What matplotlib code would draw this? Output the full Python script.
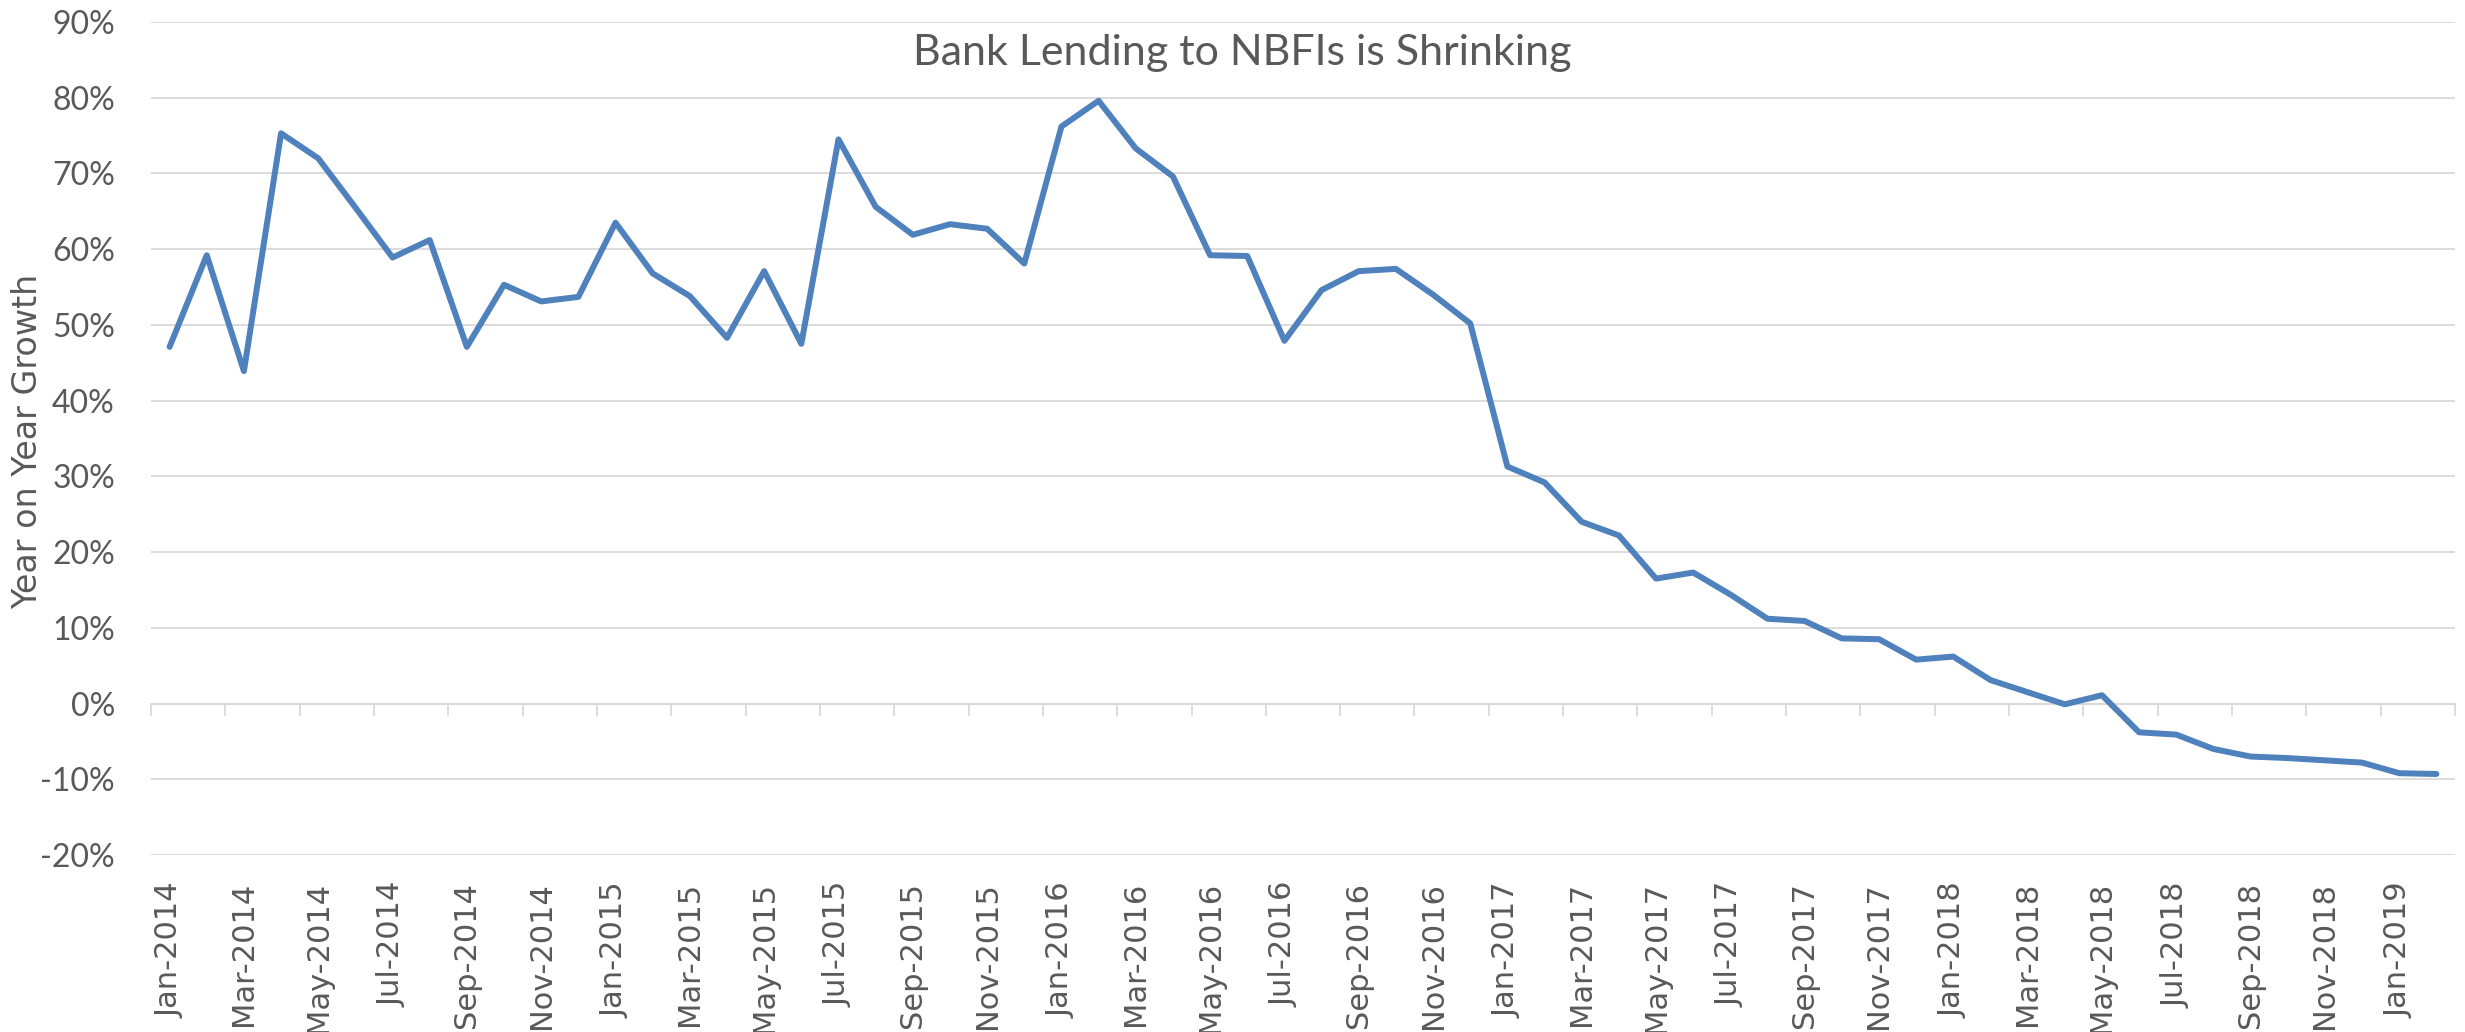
import numpy as np
import matplotlib
matplotlib.use("Agg")
import matplotlib.pyplot as plt
import matplotlib.transforms as mtransforms
from matplotlib.ticker import FuncFormatter

# ---- data (year-on-year growth, %) Jan-2014 .. Feb-2019 ----
growth = [47.1, 59.2, 43.9, 75.3, 72.0, 65.5, 58.9, 61.2, 47.1, 55.3, 53.1, 53.7,
          63.5, 56.8, 53.8, 48.3, 57.1, 47.5, 74.5, 65.6, 61.9, 63.3, 62.7, 58.1,
          76.2, 79.6, 73.3, 69.6, 59.2, 59.1, 47.9, 54.6, 57.1, 57.4, 54.0, 50.2,
          31.3, 29.2, 24.0, 22.2, 16.5, 17.3, 14.4, 11.2, 10.9, 8.6, 8.5, 5.8,
          6.2, 3.1, 1.5, -0.1, 1.1, -3.8, -4.1, -6.0, -7.0, -7.2, -7.5, -7.8,
          -9.2, -9.3]

tick_labels = ["Jan-2014", "Mar-2014", "May-2014", "Jul-2014", "Sep-2014", "Nov-2014",
               "Jan-2015", "Mar-2015", "May-2015", "Jul-2015", "Sep-2015", "Nov-2015",
               "Jan-2016", "Mar-2016", "May-2016", "Jul-2016", "Sep-2016", "Nov-2016",
               "Jan-2017", "Mar-2017", "May-2017", "Jul-2017", "Sep-2017", "Nov-2017",
               "Jan-2018", "Mar-2018", "May-2018", "Jul-2018", "Sep-2018", "Nov-2018",
               "Jan-2019"]

y_ticks = [-20, -10, 0, 10, 20, 30, 40, 50, 60, 70, 80, 90]

title = "Bank Lending to NBFIs is Shrinking"
ylabel = "Year on Year Growth"

# ---- style ----
W, H = 2465, 1032
TXT = "#595959"
GRID = "#D9D9D9"
LINE = "#4F81BD"

fig = plt.figure(figsize=(W / 100, H / 100), dpi=100)
fig.patch.set_facecolor("white")
ax = fig.add_axes([151 / W, 1 - 855 / H, (2455 - 151) / W, (855 - 22) / H])

x = np.arange(len(growth))
ax.plot(x, growth, color=LINE, lw=4.3, solid_joinstyle="round",
        solid_capstyle="round", zorder=3)

ax.set_xlim(-0.5, len(growth) - 0.5)
ax.set_ylim(min(y_ticks), max(y_ticks))
ax.set_yticks(y_ticks)
ax.yaxis.set_major_formatter(FuncFormatter(lambda v, p: f"{v:.0f}%"))
ax.grid(axis="y", color=GRID, lw=1.3)
ax.set_axisbelow(True)

for s in ["top", "right", "left"]:
    ax.spines[s].set_visible(False)
ax.spines["bottom"].set_position(("data", 0))
ax.spines["bottom"].set_color(GRID)
ax.spines["bottom"].set_linewidth(1.3)

ax.tick_params(axis="y", length=0, pad=26, labelsize=23, labelcolor=TXT)
for lab in ax.get_yticklabels():
    lab.set_family("Lato")

# tick marks at category boundaries every two months, on the 0% line
bounds = np.arange(-0.5, len(growth), 2)
ax.set_xticks(bounds)
ax.set_xticklabels([])
ax.tick_params(axis="x", length=8.6, width=1.3, color=GRID, direction="out")

# category labels at the bottom of the plot
trans = mtransforms.blended_transform_factory(ax.transData, ax.transAxes)
label_pos = np.arange(0, len(growth), 2)
for xp, lab in zip(label_pos, tick_labels):
    ax.text(xp, -27 / 833, lab, rotation=90, ha="center", va="top",
            transform=trans, fontsize=22, color=TXT, family="DejaVu Sans",
            clip_on=False)

fig.text(0.504, 1 - 65 / H, title, ha="center", va="baseline",
         fontsize=31, color=TXT, family="Lato")
fig.text(28 / W, 1 - 441 / H, ylabel, rotation=90, ha="center", va="center",
         fontsize=24, color=TXT, family="DejaVu Sans")

fig.savefig("out.png", dpi=100, facecolor="white")
